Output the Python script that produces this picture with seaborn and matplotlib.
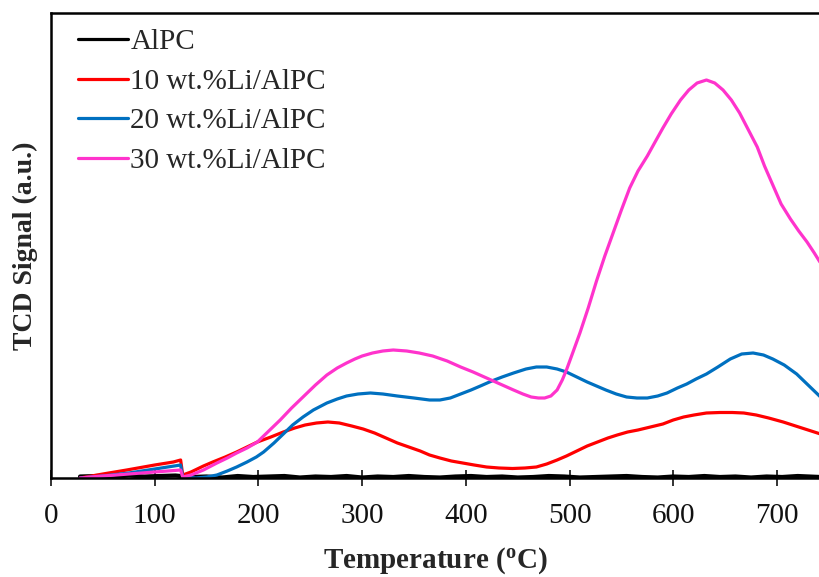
import matplotlib
matplotlib.use("Agg")
import matplotlib.pyplot as plt
import seaborn as sns
import pandas as pd

# TPR profiles: temperature (°C) and TCD signal (arbitrary units)
t_alpc = [28, 45, 60, 75, 90, 105, 120, 135, 150, 165, 180, 195, 210, 225, 240,
          255, 270, 285, 300, 315, 330, 345, 360, 375, 390, 405, 420, 435, 450,
          465, 480, 495, 510, 525, 540, 555, 570, 585, 600, 615, 630, 645, 660,
          675, 690, 705, 720, 742]
s_alpc = [1.5, 2.0, 1.0, 2.5, 1.5, 2.0, 2.5, 1.0, 1.5, 0.5, 2.0, 1.0, 1.5, 2.0,
          0.5, 1.5, 1.0, 2.0, 0.5, 1.5, 1.0, 2.0, 1.0, 0.5, 1.5, 2.0, 1.0, 1.5,
          0.5, 1.0, 2.0, 1.5, 0.5, 1.0, 1.5, 2.0, 1.0, 0.5, 1.5, 1.0, 2.0, 1.0,
          1.5, 0.5, 1.5, 1.0, 2.0, 1.0]

t_li10 = [28, 50, 73, 100, 118, 125, 127, 135, 147, 156, 168, 179, 189, 199,
          212, 224, 235, 245, 256, 267, 278, 290, 301, 312, 323, 334, 345, 356,
          365, 375, 386, 397, 408, 420, 432, 445, 457, 468, 478, 488, 497, 507,
          517, 527, 537, 546, 556, 566, 578, 590, 600, 610, 620, 632, 645, 657,
          668, 680, 692, 706, 718, 730, 742]
s_li10 = [0, 4, 8, 13, 16, 18, 3, 6, 12, 16, 21, 26, 31, 36, 41, 46, 50, 53, 55,
          56, 55, 52, 49, 45, 40, 35, 31, 27, 23, 20, 17, 15, 13, 11, 10, 9.5,
          10, 11, 14, 18, 22, 27, 32, 36, 40, 43, 46, 48, 51, 54, 58, 61, 63, 65,
          65.5, 65.5, 65, 63, 60, 56, 52, 48, 44]

t_li20 = [28, 50, 75, 100, 125, 127, 140, 150, 160, 170, 179, 189, 198, 205,
          215, 224, 233, 243, 253, 266, 276, 285, 296, 308, 320, 334, 350, 365,
          375, 385, 395, 405, 414, 425, 435, 446, 458, 468, 478, 488, 497, 507,
          517, 526, 535, 545, 555, 565, 575, 585, 594, 604, 613, 622, 632, 643,
          655, 666, 677, 687, 696, 707, 719, 730, 742]
s_li20 = [0, 2, 5, 9, 13, 1, 0, 1, 3, 7, 11, 16, 21, 26, 35, 44, 53, 61, 68, 75,
          79, 82, 84, 85, 84, 82, 80, 78, 78, 80, 84, 88, 92, 97, 101, 105, 109,
          111, 111, 109, 106, 101, 96, 92, 88, 84, 81, 80, 80, 82, 85, 90, 94,
          99, 104, 111, 119, 124, 125, 123, 119, 113, 104, 93, 81]

t_li30 = [28, 50, 75, 100, 125, 127, 135, 147, 160, 170, 179, 189, 199, 210,
          221, 232, 243, 255, 266, 276, 285, 293, 300, 310, 320, 330, 343, 355,
          368, 382, 395, 407, 420, 433, 446, 455, 463, 470, 476, 482, 488, 493,
          497, 503, 510, 518, 526, 534, 542, 550, 558, 566, 575, 583, 590, 598,
          607, 615, 623, 632, 640, 648, 656, 664, 672, 681, 688, 696, 704, 713,
          721, 729, 736, 742]
s_li30 = [0, 2, 4, 6, 8, 1, 3, 8, 15, 20, 25, 30, 36, 47, 58, 70, 81, 93, 103,
          110, 115, 119, 122, 125, 127, 128, 127, 125, 122, 117, 111, 106, 100,
          94, 88, 84, 81, 80, 80, 82, 88, 98, 108, 125, 145, 170, 197, 222, 245,
          268, 290, 307, 322, 337, 350, 364, 378, 388, 395, 398, 395, 388, 378,
          365, 349, 331, 312, 293, 274, 259, 247, 236, 225, 215]

labels = ["AlPC", "10 wt.%Li/AlPC", "20 wt.%Li/AlPC", "30 wt.%Li/AlPC"]
colors = ["#000000", "#FF0000", "#0070C0", "#FF33CC"]
tick_values = [0, 100, 200, 300, 400, 500, 600, 700]

frames = []
for lab, t, s in zip(labels, [t_alpc, t_li10, t_li20, t_li30],
                     [s_alpc, s_li10, s_li20, s_li30]):
    frames.append(pd.DataFrame({"Temperature": t, "Signal": s, "Sample": lab}))
df = pd.concat(frames, ignore_index=True)

sns.set_style("ticks")
plt.rcParams["font.family"] = ["Liberation Serif", "DejaVu Serif"]
plt.rcParams["mathtext.fontset"] = "custom"
plt.rcParams["mathtext.rm"] = "Liberation Serif"
plt.rcParams["mathtext.bf"] = "Liberation Serif:bold"

fig = plt.figure(figsize=(8.2, 5.77), dpi=100)
ax = fig.add_axes([51 / 820, 99 / 577, 1 - 51 / 820, 465 / 577])

sns.lineplot(data=df, x="Temperature", y="Signal", hue="Sample",
             hue_order=labels, palette=colors, sort=False, estimator=None,
             linewidth=2.3, ax=ax)
# the bare support trace is a thicker, noisier baseline
ax.get_lines()[0].set_linewidth(3.0)
for line in ax.get_lines():
    line.set_solid_joinstyle("round")

ax.set_xlim(0, 741.5)
ax.set_ylim(0, 465)
ax.set_xticks(tick_values)
ax.set_xticklabels([str(v) for v in tick_values], fontsize=21)
ax.set_yticks([])
ax.tick_params(axis="x", direction="inout", length=12, width=1.2, pad=12,
               colors="#111111")
ax.set_xlabel(r"Temperature ($\mathbf{^{o}}$C)", fontsize=21,
              fontweight="bold", labelpad=12)
ax.set_ylabel("TCD Signal (a.u.)", fontsize=20, fontweight="bold", labelpad=9)

for side in ["left", "bottom", "top"]:
    ax.spines[side].set_linewidth(1.8)
    ax.spines[side].set_color("black")
ax.spines["right"].set_visible(False)

leg = ax.legend(loc="upper left", bbox_to_anchor=(0.0351, 0.9656),
                frameon=False, fontsize=21, handlelength=1.72,
                handletextpad=0.08, labelspacing=0.45, borderaxespad=0.0,
                borderpad=0.0)
for line in leg.get_lines():
    line.set_linewidth(2.3)

fig.savefig("out.png", dpi=100)
